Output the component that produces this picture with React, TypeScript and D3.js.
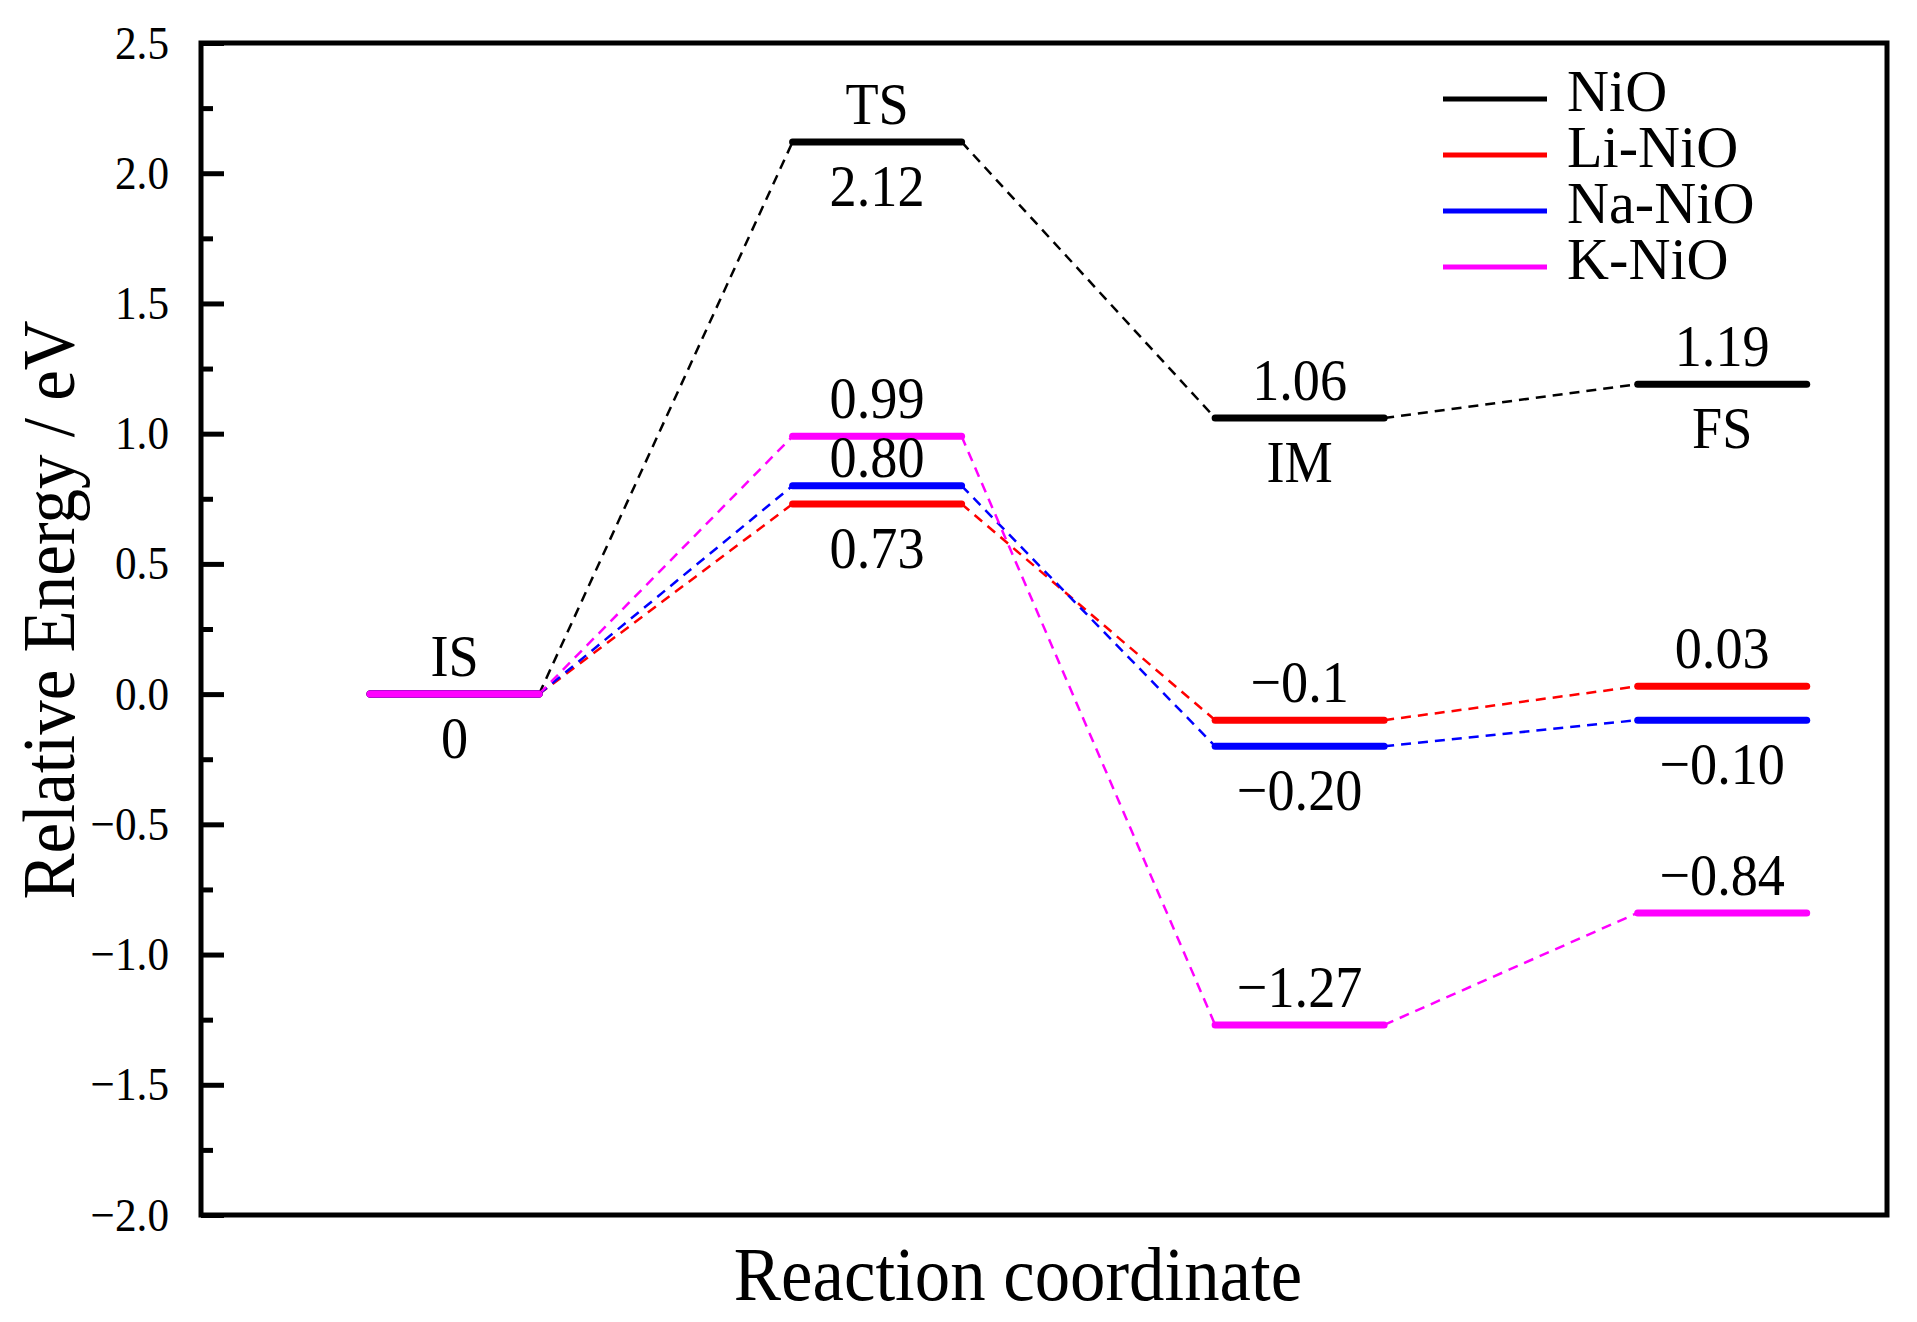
import React, { useEffect, useRef } from 'react';
import * as d3 from 'd3';

// reaction stages along the x axis
const stages = ['IS', 'TS', 'IM', 'FS'];

// relative energies (eV) per catalyst
const nioEnergy = [0, 2.12, 1.06, 1.19];
const liEnergy = [0, 0.73, -0.1, 0.03];
const naEnergy = [0, 0.8, -0.2, -0.1];
const kEnergy = [0, 0.99, -1.27, -0.84];

const seriesNames = ['NiO', 'Li-NiO', 'Na-NiO', 'K-NiO'];
const seriesColors = ['#000000', '#ff0000', '#0000ff', '#ff00ff'];
const seriesValues = [nioEnergy, liEnergy, naEnergy, kEnergy];

const yMajorTicks = [-2.0, -1.5, -1.0, -0.5, 0.0, 0.5, 1.0, 1.5, 2.0, 2.5];
const yMinorTicks = [-1.75, -1.25, -0.75, -0.25, 0.25, 0.75, 1.25, 1.75, 2.25];

// text next to the levels: stage index, energy it sits on, where
const levelLabels = [
  { stage: 0, value: 0, text: 'IS', place: 'above' },
  { stage: 0, value: 0, text: '0', place: 'below' },
  { stage: 1, value: 2.12, text: 'TS', place: 'above' },
  { stage: 1, value: 2.12, text: '2.12', place: 'below' },
  { stage: 1, value: 0.99, text: '0.99', place: 'above' },
  { stage: 1, value: 0.8, text: '0.80', place: 'tight' },
  { stage: 1, value: 0.73, text: '0.73', place: 'below' },
  { stage: 2, value: 1.06, text: '1.06', place: 'above' },
  { stage: 2, value: 1.06, text: 'IM', place: 'below' },
  { stage: 2, value: -0.1, text: '\u22120.1', place: 'above' },
  { stage: 2, value: -0.2, text: '\u22120.20', place: 'below' },
  { stage: 2, value: -1.27, text: '\u22121.27', place: 'above' },
  { stage: 3, value: 1.19, text: '1.19', place: 'above' },
  { stage: 3, value: 1.19, text: 'FS', place: 'below' },
  { stage: 3, value: 0.03, text: '0.03', place: 'above' },
  { stage: 3, value: -0.1, text: '\u22120.10', place: 'below' },
  { stage: 3, value: -0.84, text: '\u22120.84', place: 'above' },
];

const WIDTH = 1917;
const HEIGHT = 1322;
const FONT = '"Liberation Serif", "Times New Roman", serif';
const SQUEEZE = 0.92; // glyphs in the figure are a bit narrow

const App: React.FC = () => {
  const svgRef = useRef<SVGSVGElement>(null);

  useEffect(() => {
    document.body.style.margin = '0';
    if (!svgRef.current) return;

    const margin = { top: 43, right: 30, bottom: 107, left: 201 };
    const width = WIDTH - margin.left - margin.right;
    const height = HEIGHT - margin.top - margin.bottom;

    const svg = d3.select(svgRef.current);
    svg.selectAll('*').remove();

    const g = svg.append('g')
      .attr('transform', `translate(${margin.left},${margin.top})`);

    // stage n sits at x = n + 1
    const x = d3.scaleLinear().domain([0.4, 4.39]).range([0, width]);
    const y = d3.scaleLinear().domain([-2, 2.5]).range([height, 0]);
    const halfBar = 0.2;

    // minor ticks
    g.append('g')
      .call(d3.axisLeft(y).tickValues(yMinorTicks).tickSize(-12).tickFormat(() => ''))
      .call(a => a.select('.domain').remove())
      .call(a => a.selectAll('line').attr('stroke', '#000').attr('stroke-width', 5));

    // major ticks + labels
    g.append('g')
      .call(d3.axisLeft(y).tickValues(yMajorTicks).tickSize(-23).tickPadding(32).tickFormat(d3.format('.1f')))
      .call(a => a.select('.domain').remove())
      .call(a => a.selectAll('line').attr('stroke', '#000').attr('stroke-width', 5))
      .call(a => a.selectAll('text')
        .attr('fill', '#000')
        .attr('x', -32 / SQUEEZE)
        .attr('transform', `scale(${SQUEEZE},1)`)
        .style('font-family', FONT)
        .style('font-size', '47px'));

    // frame
    g.append('rect')
      .attr('x', 0).attr('y', 0)
      .attr('width', width).attr('height', height)
      .attr('fill', 'none')
      .attr('stroke', '#000')
      .attr('stroke-width', 5);

    // dashed connectors between successive levels
    seriesValues.forEach((vals, si) => {
      for (let i = 0; i < vals.length - 1; i++) {
        g.append('line')
          .attr('x1', x(i + 1 + halfBar)).attr('y1', y(vals[i]))
          .attr('x2', x(i + 2 - halfBar)).attr('y2', y(vals[i + 1]))
          .attr('stroke', seriesColors[si])
          .attr('stroke-width', 2.5)
          .attr('stroke-dasharray', '10,7');
      }
    });

    // energy levels
    seriesValues.forEach((vals, si) => {
      g.selectAll(`.level-${si}`)
        .data(vals)
        .enter().append('line')
        .attr('class', `level-${si}`)
        .attr('x1', (_, i) => x(i + 1 - halfBar))
        .attr('x2', (_, i) => x(i + 1 + halfBar))
        .attr('y1', d => y(d))
        .attr('y2', d => y(d))
        .attr('stroke', seriesColors[si])
        .attr('stroke-width', 7)
        .attr('stroke-linecap', 'round');
    });

    // level labels
    const offsets: Record<string, number> = { above: -18, below: 64, tight: -9 };
    g.selectAll('.lvl-label')
      .data(levelLabels)
      .enter().append('text')
      .attr('class', 'lvl-label')
      .attr('transform', d => `translate(${x(d.stage + 1)},${y(d.value) + offsets[d.place]}) scale(${SQUEEZE},1)`)
      .attr('text-anchor', 'middle')
      .style('font-family', FONT)
      .style('font-size', '59px')
      .attr('fill', '#000')
      .text(d => d.text);

    // legend
    const legend = g.append('g').attr('transform', `translate(${1443 - margin.left},${99 - margin.top})`);
    seriesNames.forEach((name, i) => {
      const row = legend.append('g').attr('transform', `translate(0,${i * 56})`);
      row.append('line')
        .attr('x1', 0).attr('x2', 104)
        .attr('y1', 0).attr('y2', 0)
        .attr('stroke', seriesColors[i])
        .attr('stroke-width', 5);
      row.append('text')
        .attr('transform', `translate(124,12) scale(0.97,1)`)
        .style('font-family', FONT)
        .style('font-size', '60px')
        .attr('fill', '#000')
        .text(name);
    });

    // axis titles
    svg.append('text')
      .attr('transform', `translate(1018,1300) scale(${SQUEEZE},1)`)
      .attr('text-anchor', 'middle')
      .style('font-family', FONT)
      .style('font-size', '77px')
      .attr('fill', '#000')
      .text('Reaction coordinate');

    svg.append('text')
      .attr('transform', `translate(74,610) rotate(-90) scale(${SQUEEZE},1)`)
      .attr('text-anchor', 'middle')
      .style('font-family', FONT)
      .style('font-size', '75px')
      .attr('fill', '#000')
      .text('Relative Energy / eV');
  }, []);

  return (
    <svg
      ref={svgRef}
      width={WIDTH}
      height={HEIGHT}
      style={{ display: 'block', background: '#fff' }}
      data-stages={stages.join(',')}
    />
  );
};

export default App;
